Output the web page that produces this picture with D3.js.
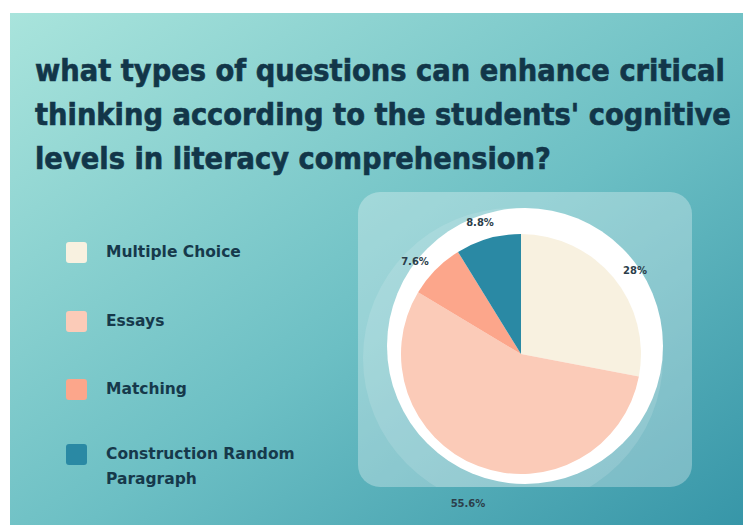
<!DOCTYPE html>
<html>
<head>
<meta charset="utf-8">
<script src="https://cdn.jsdelivr.net/npm/d3@7"></script>
<style>
  html, body { margin: 0; padding: 0; background: #fff; }
  svg { display: block; }
</style>
</head>
<body>
<script>
// chart data
const categories = ["Multiple Choice", "Essays", "Matching", "Construction Random Paragraph"]
const values = [28, 55.6, 7.6, 8.8]
const labels = ["28%", "55.6%", "7.6%", "8.8%"]
const colors = ["#f8f1e0", "#fbcbb8", "#fca68b", "#2a89a4"]
const titleLines = [
    "what types of questions can enhance critical",
    "thinking according to the students' cognitive",
    "levels in literacy comprehension?"
]

let W = 743
let H = 525

let svg = d3.select("body")
            .append("svg")
                .attr("width", W)
                .attr("height", H)

let defs = svg.append("defs")

let bg = defs.append("linearGradient")
            .attr("id", "bg")
            .attr("x1", "0%").attr("y1", "0%")
            .attr("x2", "100%").attr("y2", "100%")
bg.append("stop").attr("offset", "0%").attr("stop-color", "#a9e4dc")
bg.append("stop").attr("offset", "55%").attr("stop-color", "#6cbfc4")
bg.append("stop").attr("offset", "100%").attr("stop-color", "#3796a8")

svg.append("rect")
    .attr("x", 10)
    .attr("y", 13)
    .attr("width", W - 10)
    .attr("height", H - 13)
    .attr("fill", "url(#bg)")

// title
svg.append("g")
    .selectAll("text")
    .data(titleLines)
    .enter()
    .append("text")
        .attr("x", 35)
        .attr("y", (d, i) => 81 + i * 44)
        .attr("font-family", "'DejaVu Sans Condensed', 'DejaVu Sans', sans-serif")
        .attr("font-weight", "bold")
        .attr("font-size", 30.4)
        .attr("fill", "#123649")
        .attr("stroke", "#123649")
        .attr("stroke-width", 0.6)
        .text(d => d)

// legend
let legend = svg.append("g")
                .selectAll("g")
                .data(categories)
                .enter()
                .append("g")
                    .attr("transform", (d, i) => "translate(66," + [252, 321, 389, 454][i] + ")")

legend.append("rect")
    .attr("x", 0)
    .attr("y", -10)
    .attr("width", 21)
    .attr("height", 21)
    .attr("rx", 3)
    .attr("fill", (d, i) => colors[i])

legend.append("text")
    .attr("x", 40)
    .attr("y", 5)
    .attr("font-family", "'DejaVu Sans', sans-serif")
    .attr("font-weight", "bold")
    .attr("font-size", 15.5)
    .attr("fill", "#16394b")
    .each(function(d) {
        let words = d.split(" ")
        let t = d3.select(this)
        if (words.length > 2) {
            t.append("tspan").attr("x", 40).attr("dy", 0).text(words.slice(0, 2).join(" "))
            t.append("tspan").attr("x", 40).attr("dy", 25).text(words.slice(2).join(" "))
        } else {
            t.text(d)
        }
    })

// pie panel
defs.append("clipPath")
    .attr("id", "panelClip")
    .append("rect")
        .attr("x", 358)
        .attr("y", 192)
        .attr("width", 334)
        .attr("height", 295)
        .attr("rx", 22)

svg.append("rect")
    .attr("x", 358)
    .attr("y", 192)
    .attr("width", 334)
    .attr("height", 295)
    .attr("rx", 22)
    .attr("fill", "#ffffff")
    .attr("fill-opacity", 0.3)

let cx = 521
let cy = 354
let r = 120

svg.append("circle")
    .attr("clip-path", "url(#panelClip)")
    .attr("cx", cx - 8)
    .attr("cy", cy + 4)
    .attr("r", 150)
    .attr("fill", "#ffffff")
    .attr("fill-opacity", 0.13)

svg.append("circle")
    .attr("cx", cx + 4)
    .attr("cy", cy - 8)
    .attr("r", 138)
    .attr("fill", "#ffffff")

let pie = d3.pie().sort(null).value(d => d)
let arc = d3.arc().innerRadius(0).outerRadius(r)

svg.append("g")
    .attr("transform", "translate(" + cx + "," + cy + ")")
    .selectAll("path")
    .data(pie(values))
    .enter()
    .append("path")
        .attr("d", arc)
        .attr("fill", (d, i) => colors[i])

// value labels
let labelPos = [[635, 274], [468, 507], [415, 265], [480, 226]]
svg.append("g")
    .selectAll("text")
    .data(labels)
    .enter()
    .append("text")
        .attr("x", (d, i) => labelPos[i][0])
        .attr("y", (d, i) => labelPos[i][1])
        .attr("text-anchor", "middle")
        .attr("font-family", "'DejaVu Sans', sans-serif")
        .attr("font-weight", "bold")
        .attr("font-size", 10)
        .attr("fill", "#2c3e4a")
        .text(d => d)
</script>
</body>
</html>
